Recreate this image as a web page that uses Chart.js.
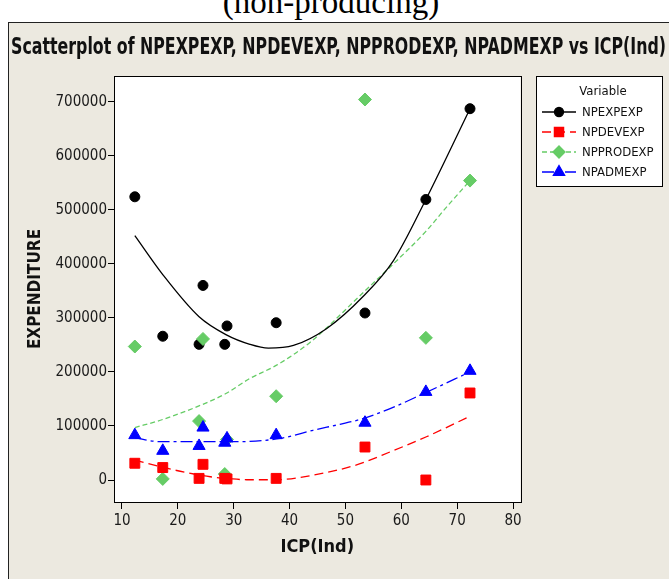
<!DOCTYPE html>
<html>
<head>
<meta charset="utf-8">
<script src="https://cdn.jsdelivr.net/npm/chart.js@4.4.0/dist/chart.umd.min.js"></script>
<style>
  html, body { margin: 0; padding: 0; background: #fff; width: 669px; height: 579px; overflow: hidden; position: relative; }
  #above { position: absolute; left: 0; top: -14px; width: 662px; text-align: center; font: 33px 'Liberation Serif', serif; line-height: 33px; color: #000; }
  #frame { position: absolute; left: 8px; top: 22px; width: 661px; height: 557px; background: #ECE9E0; border-left: 1.5px solid #222; border-top: 1.5px solid #222; box-sizing: border-box; }
  #wrap { position: absolute; left: 0; top: 0; width: 669px; height: 579px; }
</style>
</head>
<body>
<div id="above">(non-producing)</div>
<div id="frame"></div>
<div id="wrap"><canvas id="chart"></canvas></div>
<script>
const FONT = "'Liberation Sans Narrow', 'DejaVu Sans Condensed', sans-serif";

// ICP(Ind) values of the observations
const icp = [12.3, 17.3, 23.8, 24.5, 28.4, 28.8, 37.6, 53.5, 64.4, 72.3];

// series values, one per observation
const npexpexp  = [524000, 266000, 251000, 360000, 251000, 285000, 291000, 309000, 519000, 687000];
const npdevexp  = [31000, 23000, 3000, 29000, 3000, 2000, 3000, 61000, 0, 161000];
const npprodexp = [247000, 2000, 109000, 261000, 11000, 75000, 155000, 704000, 263000, 554000];
const npadmexp  = [83000, 54000, 63000, 97000, 69000, 77000, 83000, 106000, 163000, 202000];

// fitted curves
const expFitX  = [12.3, 17.3, 23.8, 28.6, 32.9, 36.2, 40.7, 46.6, 53.2, 58.6, 64.4, 72.3];
const expFitY  = [452000, 380000, 302000, 269000, 251000, 244000, 249000, 280000, 340000, 406000, 519000, 687000];
const devFitX  = [12.3, 17.4, 21.6, 25.8, 29.3, 32.3, 37.6, 44.2, 52.0, 58.0, 64.5, 72.3];
const devFitY  = [37000, 23500, 13500, 6000, 2400, 500, 500, 9000, 28000, 52000, 80000, 118000];
const prodFitX = [12.3, 17.3, 24.0, 28.6, 32.9, 37.6, 43.7, 53.5, 58.6, 64.4, 68.1, 72.3];
const prodFitY = [97000, 112000, 138000, 160000, 188000, 212000, 255000, 350000, 400000, 460000, 505000, 554000];
const admFitX  = [12.3, 16.8, 24.0, 31.1, 38.3, 44.2, 49.0, 52.6, 58.0, 64.0, 72.3];
const admFitY  = [78000, 71000, 71000, 71000, 77000, 92000, 103000, 112000, 132000, 160000, 200000];

const seriesNames = ['NPEXPEXP', 'NPDEVEXP', 'NPPRODEXP', 'NPADMEXP'];
const seriesColors = ['#000000', '#FF0000', '#66CC66', '#0000FF'];
const pointStyles = ['circle', 'rect', 'rectRot', 'triangle'];
const pointSizes = [5, 7, 6.5, 7];
const dashes = [[], [9, 5], [5, 3], [12, 4, 3, 4]];

const xTicks = [10, 20, 30, 40, 50, 60, 70, 80];
const yTicks = [0, 100000, 200000, 300000, 400000, 500000, 600000, 700000];

const titleText = 'Scatterplot of NPEXPEXP, NPDEVEXP, NPPRODEXP, NPADMEXP vs ICP(Ind)';

const pts = (xs, ys) => xs.map((x, i) => ({ x: x, y: ys[i] }));
const values = [npexpexp, npdevexp, npprodexp, npadmexp];
const fits = [[expFitX, expFitY], [devFitX, devFitY], [prodFitX, prodFitY], [admFitX, admFitY]];
const markerOrder = [4, 2, 3, 1];

const datasets = [];
seriesNames.forEach((name, i) => {
    datasets.push({
        label: name,
        data: pts(icp, values[i]),
        showLine: false,
        pointStyle: pointStyles[i],
        pointRadius: pointSizes[i],
        backgroundColor: seriesColors[i],
        borderColor: seriesColors[i],
        pointBorderWidth: 1,
        order: markerOrder[i]
    });
    datasets.push({
        label: name + ' fit',
        data: pts(fits[i][0], fits[i][1]),
        showLine: true,
        pointRadius: 0,
        borderColor: seriesColors[i],
        borderWidth: 1.3,
        borderDash: dashes[i],
        cubicInterpolationMode: 'monotone',
        fill: false,
        order: 10 + i
    });
});

// white plot area, border box, title and legend box
const decor = {
    id: 'decor',
    beforeDraw(chart) {
        const { ctx, chartArea: a } = chart;
        ctx.save();
        ctx.fillStyle = '#fff';
        ctx.fillRect(a.left, a.top, a.right - a.left, a.bottom - a.top);
        ctx.restore();
    },
    afterDraw(chart) {
        const { ctx, chartArea: a } = chart;
        ctx.save();
        ctx.strokeStyle = '#000';
        ctx.lineWidth = 1;
        ctx.strokeRect(Math.round(a.left) + 0.5, Math.round(a.top) + 0.5, Math.round(a.right - a.left), Math.round(a.bottom - a.top));

        // title, squeezed to the frame width
        ctx.font = 'bold 23px ' + FONT;
        ctx.fillStyle = '#111';
        ctx.textBaseline = 'middle';
        ctx.textAlign = 'left';
        const w = ctx.measureText(titleText).width;
        ctx.save();
        ctx.translate(11, 48);
        ctx.scale(655 / w, 1);
        ctx.fillText(titleText, 0, 0);
        ctx.restore();

        // legend box
        const lx = 536.5, ly = 76.5, lw = 126, lh = 110;
        ctx.fillStyle = '#fff';
        ctx.fillRect(lx, ly, lw, lh);
        ctx.strokeStyle = '#000';
        ctx.strokeRect(lx, ly, lw, lh);
        ctx.fillStyle = '#111';
        ctx.font = '13px ' + FONT;
        ctx.textAlign = 'center';
        ctx.fillText('Variable', 603, 92);
        ctx.textAlign = 'left';
        seriesNames.forEach((name, i) => {
            const y = 112 + i * 20;
            ctx.strokeStyle = seriesColors[i];
            ctx.lineWidth = 1.3;
            ctx.setLineDash(dashes[i]);
            ctx.beginPath();
            ctx.moveTo(542, y);
            ctx.lineTo(576, y);
            ctx.stroke();
            ctx.setLineDash([]);
            ctx.fillStyle = seriesColors[i];
            Chart.helpers.drawPoint(ctx, {
                pointStyle: pointStyles[i], radius: pointSizes[i] - 0.5, rotation: 0, borderWidth: 1
            }, 559, y);
            ctx.fillStyle = '#111';
            ctx.fillText(name, 582, y + 1);
        });
        ctx.restore();
    }
};

new Chart(document.getElementById('chart'), {
    type: 'scatter',
    data: { datasets: datasets },
    options: {
        responsive: true,
        maintainAspectRatio: false,
        devicePixelRatio: 1,
        animation: false,
        layout: { padding: { left: 0, top: 76, right: 148.5, bottom: 0 } },
        plugins: {
            legend: { display: false },
            title: { display: false },
            tooltip: { enabled: false }
        },
        scales: {
            x: {
                type: 'linear',
                min: 8.57,
                max: 81.34,
                afterFit: s => { s.height = 77; },
                afterBuildTicks: s => { s.ticks = xTicks.map(v => ({ value: v })); },
                grid: { display: true, drawOnChartArea: false, drawTicks: true, tickLength: 7, color: '#000' },
                border: { display: true, color: '#000', width: 1 },
                ticks: { color: '#1a1a1a', padding: 3, maxRotation: 0, font: { family: FONT, size: 15 }, callback: v => String(v) },
                title: { display: true, text: 'ICP(Ind)', color: '#111', font: { family: FONT, size: 18, weight: 'bold' }, padding: { top: 0, bottom: 21 } }
            },
            y: {
                type: 'linear',
                min: -40700,
                max: 747500,
                afterFit: s => { s.width = 114; },
                afterBuildTicks: s => { s.ticks = yTicks.map(v => ({ value: v })); },
                grid: { display: true, drawOnChartArea: false, drawTicks: true, tickLength: 6, color: '#000' },
                border: { display: true, color: '#000', width: 1 },
                ticks: { color: '#1a1a1a', padding: 1, font: { family: FONT, size: 15 }, callback: v => String(v) },
                title: { display: true, text: 'EXPENDITURE', color: '#111', font: { family: FONT, size: 17, weight: 'bold' }, padding: { top: 25, bottom: 0 } }
            }
        }
    },
    plugins: [decor]
});
</script>
</body>
</html>
